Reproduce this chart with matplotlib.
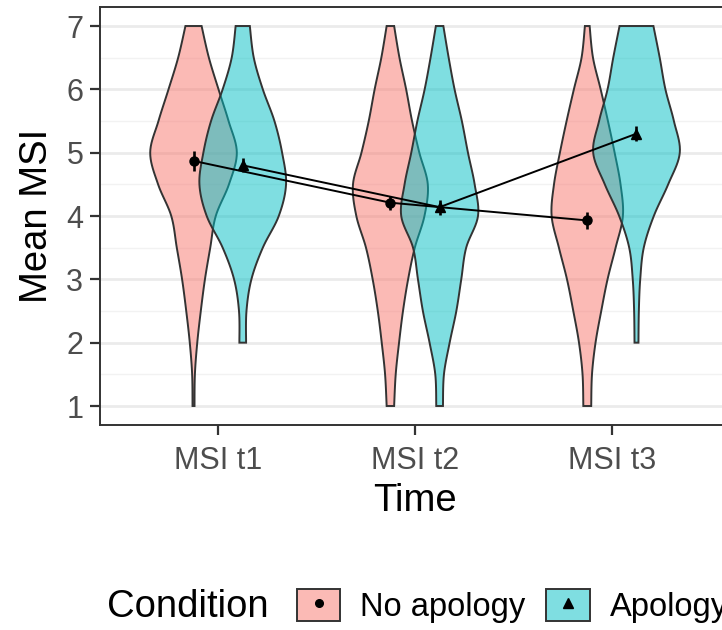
import matplotlib.pyplot as plt
import numpy as np
from matplotlib.patches import Patch
from matplotlib.lines import Line2D
from matplotlib.legend_handler import HandlerTuple
from matplotlib.colors import to_rgba

plt.rcParams['font.family'] = ['Liberation Sans', 'DejaVu Sans']

times = ['MSI t1', 'MSI t2', 'MSI t3']
conditions = ['No apology', 'Apology']

# means and error bar half lengths, per condition
means_no = [4.87, 4.21, 3.93]
means_ap = [4.80, 4.14, 5.30]
err_no = [0.16, 0.11, 0.13]
err_ap = [0.11, 0.12, 0.12]

y_full = [1, 1.5, 2, 2.5, 3, 3.5, 4, 4.5, 5, 5.5, 6, 6.5, 7]
y_from2 = [2, 2.5, 3, 3.5, 4, 4.5, 5, 5.5, 6, 6.5, 7]
width_no_t1 = [0.005, 0.007, 0.019, 0.037, 0.058, 0.085, 0.113, 0.180, 0.220, 0.178, 0.127, 0.078, 0.041]
width_ap_t1 = [0.017, 0.019, 0.044, 0.102, 0.183, 0.220, 0.200, 0.161, 0.102, 0.056, 0.036]
width_no_t2 = [0.019, 0.027, 0.044, 0.064, 0.090, 0.124, 0.173, 0.190, 0.147, 0.110, 0.080, 0.046, 0.019]
width_ap_t2 = [0.017, 0.022, 0.051, 0.085, 0.110, 0.135, 0.195, 0.178, 0.144, 0.113, 0.076, 0.046, 0.019]
width_no_t3 = [0.020, 0.024, 0.042, 0.071, 0.103, 0.144, 0.181, 0.169, 0.139, 0.105, 0.068, 0.029, 0.012]
width_ap_t3 = [0.010, 0.012, 0.019, 0.037, 0.088, 0.161, 0.220, 0.190, 0.147, 0.118, 0.086]

violins_no = [(y_full, width_no_t1), (y_full, width_no_t2), (y_full, width_no_t3)]
violins_ap = [(y_from2, width_ap_t1), (y_full, width_ap_t2), (y_from2, width_ap_t3)]

pink = '#F8766D'
teal = '#00BFC4'
dodge = 0.125


def smooth(y, w, n=10):
    # catmull-rom through the read points, only for a softer outline
    pts = np.column_stack([y, w]).astype(float)
    pad = np.vstack([pts[0], pts, pts[-1]])
    out = []
    for i in range(1, len(pad) - 2):
        p0, p1, p2, p3 = pad[i - 1], pad[i], pad[i + 1], pad[i + 2]
        for t in np.linspace(0, 1, n, endpoint=False):
            out.append(0.5 * (2 * p1 + (-p0 + p2) * t + (2 * p0 - 5 * p1 + 4 * p2 - p3) * t ** 2
                              + (-p0 + 3 * p1 - 3 * p2 + p3) * t ** 3))
    out.append(pts[-1])
    out = np.array(out)
    out[:, 1] = np.clip(out[:, 1], 0.003, None)
    return out[:, 0], out[:, 1]


def violin(ax, xc, y, w, color):
    ys, ws = smooth(y, w)
    xs = np.concatenate([xc + ws, (xc - ws)[::-1]])
    yy = np.concatenate([ys, ys[::-1]])
    ax.fill(xs, yy, facecolor=to_rgba(color, 0.5), edgecolor='#333333', linewidth=1.4, zorder=2)


fig = plt.figure(figsize=(7.22, 6.30), dpi=100)
ax = fig.add_axes([100 / 722, 1 - 425 / 630, 630 / 722, 418 / 630])

x = np.arange(1, 4)
for i in range(3):
    violin(ax, x[i] - dodge, violins_no[i][0], violins_no[i][1], pink)
    violin(ax, x[i] + dodge, violins_ap[i][0], violins_ap[i][1], teal)

ax.plot(x - dodge, means_no, color='black', lw=1.4, zorder=4)
ax.plot(x + dodge, means_ap, color='black', lw=1.4, zorder=4)
ax.errorbar(x - dodge, means_no, yerr=err_no, fmt='o', color='black', ms=6.5, elinewidth=1.9, capsize=0, zorder=5)
ax.errorbar(x + dodge, means_ap, yerr=err_ap, fmt='^', color='black', ms=7.5, elinewidth=1.9, capsize=0, zorder=5)

ax.set_xlim(0.4, 3.6)
ax.set_ylim(0.7, 7.3)
ax.set_xticks(x)
ax.set_xticklabels(times)
ax.set_yticks(range(1, 8))
ax.set_yticks(np.arange(1.5, 7, 1), minor=True)
ax.grid(axis='y', which='major', color='#EBEBEB', lw=2.0, zorder=0)
ax.grid(axis='y', which='minor', color='#F2F2F2', lw=1.0, zorder=0)
ax.set_axisbelow(True)
ax.tick_params(axis='both', which='major', labelsize=22, labelcolor='#4D4D4D', color='#333333',
               length=7, width=1.6, pad=5)
ax.tick_params(axis='x', which='major', pad=8)
ax.tick_params(axis='y', which='minor', length=0)
for s in ax.spines.values():
    s.set_color('#333333')
    s.set_linewidth(1.4)
ax.spines['right'].set_visible(False)

ax.set_xlabel('Time', fontsize=27.5, labelpad=5)
ax.set_ylabel('Mean MSI', fontsize=27.5, labelpad=8)

fig.text(107 / 722, 1 - 607 / 630, 'Condition', fontsize=27.5, ha='left', va='center')
h_no = (Patch(facecolor=to_rgba(pink, 0.5), edgecolor='#333333', lw=1.4),
        Line2D([], [], marker='o', color='black', ls='', ms=5.5))
h_ap = (Patch(facecolor=to_rgba(teal, 0.5), edgecolor='#333333', lw=1.4),
        Line2D([], [], marker='^', color='black', ls='', ms=6.5))
fig.legend([h_no, h_ap], conditions, handler_map={tuple: HandlerTuple(ndivide=1)},
           loc='center left', bbox_to_anchor=(297 / 722, 1 - 606 / 630), ncol=2, frameon=False,
           fontsize=23.5, handlelength=1.33, handleheight=1.15, handletextpad=0.6,
           columnspacing=0.65, borderpad=0, borderaxespad=0)

fig.savefig('out.png', dpi=100)
